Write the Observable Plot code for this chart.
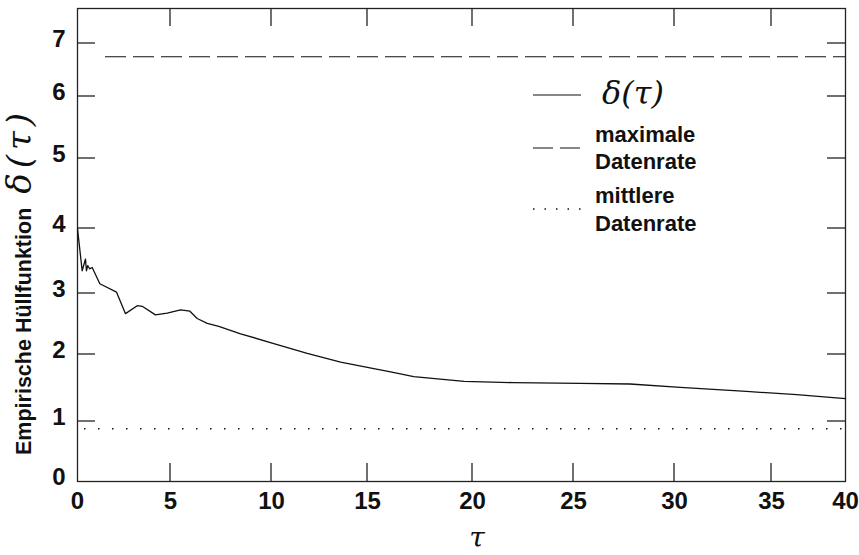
<!DOCTYPE html>
<html><head><meta charset="utf-8">
<script src="https://cdn.jsdelivr.net/npm/d3@7"></script>
<script src="https://cdn.jsdelivr.net/npm/@observablehq/plot@0.6"></script>
<style>body{margin:0;background:#fff;} #chart{position:relative;width:859px;height:555px;} #ticks{position:absolute;left:0;top:0;pointer-events:none;}</style>
</head><body><div id="chart"></div>
<script>
// Data
const tau   = [0, 0.25, 0.43, 0.48, 0.55, 0.65, 0.79, 1.2, 2.1, 2.58, 3.21, 3.48, 4.19, 4.82, 5.5, 5.96, 6.32, 6.82, 7.39, 8.47, 10.12, 11.86, 13.6, 15.3, 16.1, 17.2, 19.6, 22.0, 25.35, 27.8, 30.3, 33.7, 36.7, 40];
const delta = [4.0, 3.35, 3.53, 3.35, 3.43, 3.38, 3.40, 3.15, 3.02, 2.67, 2.80, 2.79, 2.65, 2.68, 2.73, 2.71, 2.59, 2.51, 2.46, 2.34, 2.18, 2.02, 1.885, 1.79, 1.74, 1.67, 1.60, 1.58, 1.57, 1.56, 1.51, 1.45, 1.40, 1.34];
const maxRate  = 6.75;   // maximale Datenrate
const meanRate = 0.88;   // mittlere Datenrate
const xTicks = [0, 5, 10, 15, 20, 25, 30, 35, 40];
const yTicks = [0, 1, 2, 3, 4, 5, 6, 7];
const yLabel = "Empirische Hüllfunktion";
const legendLabels = [["δ(τ)"], ["maximale", "Datenrate"], ["mittlere", "Datenrate"]];

const data = tau.map((t, i) => ({tau: t, delta: delta[i]}));
const ink = "#111";
const fmt = d => String(d);

const W = 859, H = 555, mL = 77, mR = 14, mT = 8, mB = 74, tickLen = 18;
// the printed axes are slightly irregular: piecewise-linear scales follow the printed tick positions
const xRange = [77, 170, 271, 367, 472, 573, 674, 771, 845];
const yDomain = [...yTicks, 7.66], yRange = [481, 421, 354, 293, 228, 158, 96, 43, 8];

const chart = Plot.plot({
  width: W, height: H,
  marginLeft: mL, marginRight: mR, marginTop: mT, marginBottom: mB,
  style: {fontFamily: "'Liberation Sans', Arial, sans-serif", background: "white", color: ink},
  x: {type: "linear", domain: xTicks, range: xRange},
  y: {type: "linear", domain: yDomain, range: yRange},
  marks: [
    Plot.frame({stroke: "#222", strokeWidth: 1.3}),
    Plot.axisX(xTicks, {anchor: "bottom", tickSize: 0, tickPadding: 10, tickFormat: fmt, fontSize: 24, fontWeight: "bold", label: null}),
    Plot.axisY(yTicks, {anchor: "left", tickSize: 0, tickPadding: 12, dy: -4, tickFormat: fmt, fontSize: 24, fontWeight: "bold", label: null}),
    Plot.ruleY([maxRate], {stroke: ink, strokeWidth: 1.2, strokeDasharray: "21,7", insetLeft: 28}),
    Plot.ruleY([meanRate], {stroke: ink, strokeWidth: 1.6, strokeDasharray: "1.5,12.5", insetLeft: 7}),
    Plot.line(data, {x: "tau", y: "delta", stroke: ink, strokeWidth: 1.3})
  ]
});
document.getElementById("chart").append(chart);

const svg = d3.select(chart);
const sx = chart.scale("x"), sy = chart.scale("y");
const fx = d3.scaleLinear(xTicks, xRange), fy = d3.scaleLinear(yDomain, yRange);
const px = v => { const p = sx.apply(v); return Number.isFinite(p) ? p : fx(v); };
const py = v => { const p = sy.apply(v); return Number.isFinite(p) ? p : fy(v); };

// inward tick marks on all four sides, in an overlay on top of the chart
const ov = d3.select("#chart").append("svg").attr("id", "ticks").attr("width", W).attr("height", H);
const tg = ov.append("g").attr("stroke", "#222").attr("stroke-width", 1.3);
const L = mL, R = W - mR, B = H - mB, T = mT;
xTicks.slice(1, -1).forEach(v => {
  const p = px(v);
  tg.append("line").attr("x1", p).attr("x2", p).attr("y1", B).attr("y2", B - tickLen);
  tg.append("line").attr("x1", p).attr("x2", p).attr("y1", T).attr("y2", T + tickLen);
});
yTicks.slice(1).forEach(v => {
  const p = py(v);
  tg.append("line").attr("x1", L).attr("x2", L + tickLen).attr("y1", p).attr("y2", p);
  tg.append("line").attr("x1", R).attr("x2", R - tickLen).attr("y1", p).attr("y2", p);
});

// y axis title
const yt = svg.append("text")
  .attr("transform", "translate(31,455) rotate(-90)")
  .attr("text-anchor", "start")
  .attr("fill", ink);
yt.append("tspan").attr("font-size", 21.5).attr("font-weight", "bold").text(yLabel);
yt.append("tspan").attr("dx", 14).attr("font-size", 34).attr("letter-spacing", 5)
  .attr("font-family", "'DejaVu Serif', serif").attr("font-style", "italic").text("δ(τ)");
// x axis title
svg.append("text").attr("x", 477).attr("y", 547).attr("text-anchor", "middle")
  .attr("font-size", 28).attr("font-family", "'DejaVu Serif', serif").attr("font-style", "italic").attr("fill", ink).text("τ");

// legend
const lg = svg.append("g").attr("fill", ink).attr("text-anchor", "start");
const styles = [{y: 95, dash: null, w: 1.2}, {y: 148, dash: "20,7", w: 1.2}, {y: 209, dash: "1.5,10", w: 1.6}];
styles.forEach(s => {
  lg.append("line").attr("x1", 533).attr("x2", 581).attr("y1", s.y).attr("y2", s.y)
    .attr("stroke", ink).attr("stroke-width", s.w).attr("stroke-dasharray", s.dash);
});
lg.append("text").attr("x", 602).attr("y", 104).attr("font-size", 32)
  .attr("font-family", "'DejaVu Serif', serif").attr("font-style", "italic").text(legendLabels[0][0]);
[[142, 169], [203, 231]].forEach((ys, k) => {
  legendLabels[k + 1].forEach((t, j) => {
    lg.append("text").attr("x", 595).attr("y", ys[j]).attr("font-size", 22).attr("font-weight", "bold").text(t);
  });
});
</script>
</body></html>
